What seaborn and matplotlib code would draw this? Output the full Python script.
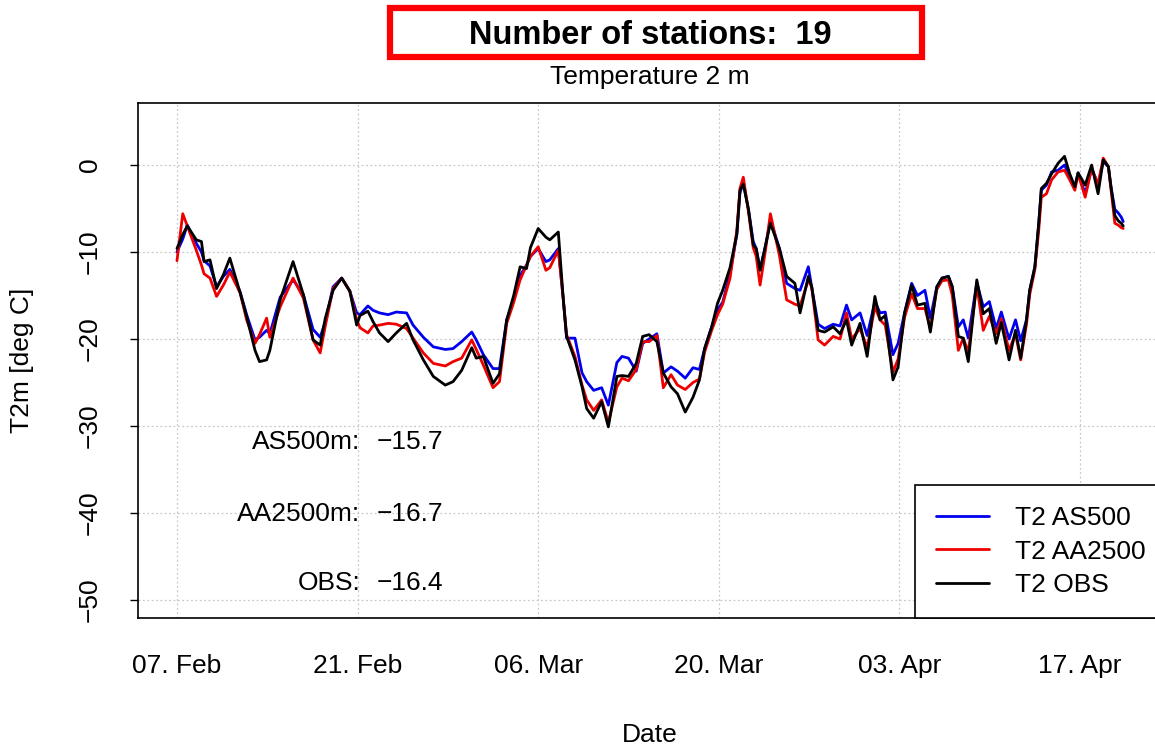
import numpy as np
import pandas as pd
import matplotlib
matplotlib.use("Agg")
import matplotlib.pyplot as plt
from matplotlib.patches import Rectangle
from matplotlib.lines import Line2D
import seaborn as sns

# ---- data: 2 m temperature, station average (deg C) ----
start_date = "2024-02-07"
days = [0.0, 0.45, 0.8, 1.5, 1.9, 2.1, 2.56, 3.07, 3.6, 4.1, 4.9, 5.4, 6.05, 6.4, 6.95, 7.2,
        8.0, 9.0, 9.8, 10.55, 11.1, 11.5, 12.1, 12.77, 13.4, 13.93, 14.19, 14.8, 15.2, 15.7,
        16.37, 17.0, 17.8, 18.3, 19.1, 19.87, 20.8, 21.4, 22.07, 22.85, 23.2, 23.75, 24.5,
        25.0, 25.56, 26.1, 26.6, 27.1, 27.4, 28.0, 28.6, 28.9, 29.56, 29.95, 30.2, 30.85,
        31.4, 31.76, 32.3, 32.92, 33.44, 34.1, 34.5, 35.0, 35.6, 36.1, 36.6, 37.2, 37.7,
        38.3, 38.8, 39.4, 40.0, 40.5, 40.9, 41.45, 41.9, 42.3, 42.87, 43.4, 43.64, 43.9,
        44.3, 44.67, 44.9, 45.2, 45.6, 46.0, 46.7, 47.26, 47.9, 48.3, 48.94, 49.2, 49.7,
        50.2, 50.87, 51.4, 51.9, 52.3, 52.95, 53.5, 54.1, 54.5, 54.9, 55.5, 55.9, 56.4,
        56.95, 57.4, 57.98, 58.4, 58.9, 59.3, 59.8, 60.1, 60.57, 60.95, 61.34, 62.0, 62.5,
        62.97, 63.5, 63.9, 64.5, 65.0, 65.4, 65.85, 66.1, 66.5, 66.8, 67.0, 67.4, 67.8,
        68.3, 68.8, 69.2, 69.6, 69.85, 70.4, 70.9, 71.4, 71.8, 72.2, 72.4, 72.7, 72.96,
        73.2, 73.35]

t2_as500 = [-10.0, -8.5, -6.9, -9.0, -10.0, -11.0, -11.6, -14.0, -12.8, -12.0, -14.6, -17.2,
            -20.1, -19.8, -19.0, -19.4, -15.2, -13.2, -14.9, -18.9, -19.8, -18.0, -14.0, -13.0,
            -14.5, -17.0, -17.2, -16.2, -16.7, -17.0, -17.2, -16.9, -17.0, -18.4, -19.8, -20.9,
            -21.2, -21.1, -20.3, -19.2, -20.1, -21.8, -23.4, -23.4, -17.8, -15.5, -12.7, -11.5,
            -10.5, -9.6, -11.1, -10.9, -9.6, -15.5, -19.9, -19.9, -23.9, -24.9, -25.9, -25.6,
            -27.6, -22.7, -22.0, -22.2, -23.7, -20.5, -20.0, -19.4, -23.9, -23.2, -23.7, -24.5,
            -23.3, -23.5, -21.1, -18.6, -16.6, -15.8, -12.5, -8.0, -3.2, -2.0, -5.1, -8.8,
            -9.6, -12.0, -9.4, -6.3, -9.6, -13.6, -14.2, -14.4, -11.7, -14.0, -18.3, -18.8,
            -18.3, -18.5, -16.1, -17.8, -17.0, -19.6, -15.7, -17.0, -16.9, -21.8, -20.5, -17.0,
            -13.6, -15.0, -14.4, -17.6, -14.0, -13.0, -12.8, -14.0, -18.6, -17.8, -19.9, -13.5,
            -16.3, -15.7, -18.8, -16.9, -20.0, -17.8, -20.2, -17.8, -14.4, -11.7, -6.7, -2.9,
            -2.3, -0.8, -0.6, 0.0, -1.3, -2.5, -0.9, -3.3, -0.4, -2.2, 0.4, -0.2, -2.5, -5.1,
            -5.5, -6.0, -6.5]

t2_aa2500 = [-11.0, -5.6, -7.0, -9.8, -11.5, -12.5, -13.0, -15.1, -13.8, -12.3, -14.7, -17.8,
             -20.5, -19.5, -17.6, -19.8, -16.3, -13.0, -15.3, -20.1, -21.6, -18.5, -14.2, -13.0,
             -14.5, -17.8, -18.7, -19.3, -18.5, -18.4, -18.2, -18.3, -18.8, -19.9, -21.6, -22.8,
             -23.1, -22.6, -22.2, -20.1, -21.2, -23.0, -25.6, -24.9, -18.2, -15.8, -13.2, -11.5,
             -10.5, -9.4, -12.1, -11.8, -9.8, -15.5, -19.5, -22.0, -25.3, -27.0, -28.2, -27.0,
             -29.6, -25.5, -24.5, -24.8, -23.5, -20.3, -20.3, -19.6, -25.6, -24.1, -25.3, -25.8,
             -25.0, -24.6, -21.5, -19.0, -17.2, -16.0, -13.0, -7.5, -2.7, -1.4, -5.4, -9.5,
             -10.5, -13.8, -10.0, -5.6, -10.4, -15.5, -16.0, -16.2, -13.2, -14.0, -20.1, -20.7,
             -19.7, -20.0, -17.0, -20.0, -18.8, -21.0, -16.3, -17.8, -18.4, -23.8, -22.3, -17.5,
             -14.8, -16.5, -16.5, -18.8, -14.3, -13.3, -13.2, -15.0, -21.3, -19.9, -21.5, -13.8,
             -19.0, -17.4, -19.4, -17.7, -21.3, -19.4, -22.4, -18.3, -14.9, -12.0, -7.5, -3.7,
             -3.3, -1.7, -0.8, -0.6, -1.7, -2.9, -1.0, -3.7, -0.4, -2.2, 0.8, -0.2, -2.8, -6.7,
             -6.9, -7.2, -7.3]

t2_obs = [-9.6, -8.0, -7.0, -8.6, -8.8, -11.1, -10.9, -14.2, -12.6, -10.7, -14.7, -17.4,
          -21.3, -22.6, -22.4, -21.3, -15.5, -11.1, -14.9, -20.1, -20.7, -17.6, -14.4, -13.0,
          -14.5, -18.4, -17.3, -16.8, -18.0, -19.3, -20.3, -19.3, -18.2, -20.1, -22.4, -24.3,
          -25.3, -24.9, -23.6, -21.0, -22.2, -22.0, -25.1, -24.0, -17.8, -15.0, -11.7, -11.9,
          -9.5, -7.3, -8.3, -8.6, -7.7, -15.5, -19.7, -22.4, -25.5, -28.0, -29.1, -27.2,
          -30.1, -24.3, -24.2, -24.3, -22.8, -19.7, -19.5, -20.3, -23.9, -25.5, -26.3, -28.4,
          -26.7, -24.7, -21.1, -18.6, -15.9, -14.4, -11.8, -7.9, -2.9, -2.2, -5.1, -9.2,
          -9.6, -12.1, -9.4, -6.7, -9.6, -12.8, -13.6, -17.0, -12.8, -14.0, -19.0, -19.2,
          -18.6, -19.4, -17.8, -20.7, -18.2, -22.0, -15.1, -17.8, -17.3, -24.7, -23.2, -17.0,
          -13.8, -16.1, -15.9, -19.2, -14.0, -13.0, -12.8, -14.0, -19.7, -19.9, -22.6, -13.2,
          -17.1, -16.5, -20.5, -18.1, -22.4, -19.0, -22.2, -17.8, -14.4, -11.7, -6.7, -2.7,
          -2.1, -1.0, 0.2, 1.0, -1.0, -2.5, -0.9, -2.3, 0.0, -3.3, 0.6, -0.2, -2.5, -5.8,
          -6.4, -6.7, -7.0]

series_names = ["T2 AS500", "T2 AA2500", "T2 OBS"]
series_colors = ["#0000ee", "#ee0000", "#000000"]

# period means shown in the lower left
mean_labels = ["AS500m:", "AA2500m:", "OBS:"]
mean_values = [-15.7, -16.7, -16.4]

n_stations = 19
y_ticks = [-50, -40, -30, -20, -10, 0]
x_tick_days = [0, 14, 28, 42, 56, 70]
x_tick_labels = ["07. Feb", "21. Feb", "06. Mar", "20. Mar", "03. Apr", "17. Apr"]

# ---- long-form table ----
start = pd.Timestamp(start_date)
time = start + pd.to_timedelta(days, unit="D")
df = pd.concat([
    pd.DataFrame({"time": time, "T2": vals, "series": name})
    for name, vals in zip(series_names, [t2_as500, t2_aa2500, t2_obs])
], ignore_index=True)

sns.set_theme(style="white")
plt.rcParams["font.family"] = ["Liberation Sans", "DejaVu Sans"]
plt.rcParams["axes.unicode_minus"] = True
plt.rcParams["text.color"] = "black"
plt.rcParams["axes.labelcolor"] = "black"
plt.rcParams["xtick.color"] = "black"
plt.rcParams["ytick.color"] = "black"

W, H = 1155, 747
fig = plt.figure(figsize=(W / 100, H / 100), dpi=100)
ax = fig.add_axes([138 / W, 1 - 618 / H, 1022 / W, 515 / H])

sns.lineplot(data=df, x="time", y="T2", hue="series", hue_order=series_names,
             palette=dict(zip(series_names, series_colors)), estimator=None, sort=False,
             linewidth=2.0, legend=False, ax=ax)

# axes ranges
ax.set_xlim(start - pd.Timedelta(days=3.02), start + pd.Timedelta(days=76.2))
ax.set_ylim(-52.07, 7.13)

# grid
ax.set_axisbelow(True)
ax.grid(True, color="#c8c8c8", linestyle=(0, (1.5, 2)), linewidth=0.9)

# ticks
ax.set_xticks([start + pd.Timedelta(days=d) for d in x_tick_days])
ax.set_xticklabels(x_tick_labels, fontsize=19, color="black")
ax.set_yticks(y_ticks)
ax.set_yticklabels([f"{v}".replace("-", "\u2212") for v in y_ticks], fontsize=19,
                   rotation=90, va="center", color="black")
ax.tick_params(axis="x", length=0, pad=26, colors="black")
ax.tick_params(axis="y", length=6, width=1.0, pad=20, colors="black", left=True)
ax.set_xlabel("")
ax.set_ylabel("")
for s in ax.spines.values():
    s.set_color("black")
    s.set_linewidth(1.2)

# means
for lab, val, yv in zip(mean_labels, mean_values, [-31.84, -40.1, -48.05]):
    ax.text(start + pd.Timedelta(days=14.19), yv, lab, ha="right", va="center",
            fontsize=19, color="black")
    ax.text(start + pd.Timedelta(days=15.5), yv, f"{val:.1f}".replace("-", "\u2212"),
            ha="left", va="center", fontsize=19, color="black")

# legend
handles = [Line2D([0], [0], color=c, lw=2.0) for c in series_colors]
leg = ax.legend(handles, series_names, loc="lower left", bbox_to_anchor=(0.760, 0.0),
                fontsize=19, frameon=True, fancybox=False, edgecolor="black",
                handlelength=2.0, handletextpad=1.0, labelspacing=0.35, borderpad=0.8,
                borderaxespad=0)
leg.get_frame().set_linewidth(1.2)
leg.get_frame().set_alpha(1)
for txt in leg.get_texts():
    txt.set_color("black")

# titles and labels
fig.text(650 / W, 1 - 36 / H, f"Number of stations:  {n_stations}", ha="center", va="center",
         fontsize=23.5, fontweight="bold", color="black")
fig.add_artist(Rectangle((390 / W, 1 - 57 / H), (922 - 390) / W, 49 / H,
                         transform=fig.transFigure, fill=False, edgecolor="#ff0000",
                         linewidth=4.5))
fig.text(650 / W, 1 - 77 / H, "Temperature 2 m", ha="center", va="center", fontsize=19,
         color="black")
fig.text(650 / W, 1 - 735 / H, "Date", ha="center", va="center", fontsize=19, color="black")
fig.text(22 / W, 1 - 360 / H, "T2m [deg C]", ha="center", va="center", fontsize=19,
         rotation=90, color="black")

fig.savefig("out.png", dpi=100)
